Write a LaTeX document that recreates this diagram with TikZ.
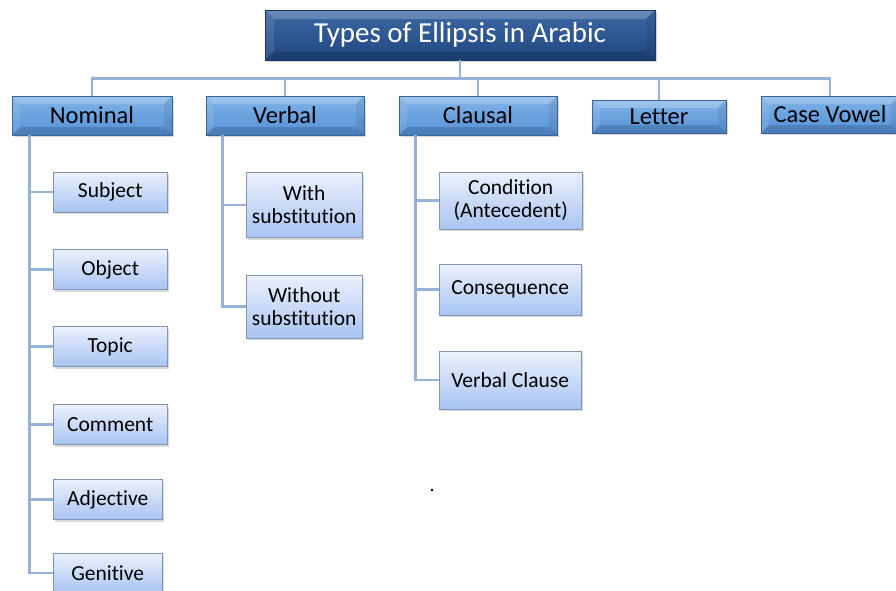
\documentclass[tikz,border=0pt]{standalone}
\usepackage{fontspec}
\setmainfont{Carlito}[Ligatures={NoCommon}]
\usetikzlibrary{shadows}
\definecolor{navy}{RGB}{31,70,128}
\definecolor{navytop}{RGB}{62,105,165}
\definecolor{midblue}{RGB}{84,145,214}
\definecolor{midtop}{RGB}{130,180,232}
\definecolor{paletop}{RGB}{236,241,253}
\definecolor{palebot}{RGB}{168,196,242}
\definecolor{linkblue}{RGB}{150,178,216}
\definecolor{boxedge}{RGB}{130,150,180}
\begin{document}
\begin{tikzpicture}[x=1pt,y=-1pt,
	bevel/.style={path picture={
		\path (path picture bounding box.north west) coordinate (bnw) (path picture bounding box.north east) coordinate (bne)
			(path picture bounding box.south west) coordinate (bsw) (path picture bounding box.south east) coordinate (bse);
		\fill[white,opacity=.22] (bnw) -- (bne) -- ([shift={(-#1,-#1)}]bne) -- ([shift={(#1,-#1)}]bnw) -- cycle;
		\fill[black,opacity=.14] (bsw) -- (bse) -- ([shift={(-#1,#1)}]bse) -- ([shift={(#1,#1)}]bsw) -- cycle;
		\fill[black,opacity=.07] (bne) -- (bse) -- ([shift={(-#1,#1)}]bse) -- ([shift={(-#1,-#1)}]bne) -- cycle;
		\fill[white,opacity=.1] (bnw) -- (bsw) -- ([shift={(#1,#1)}]bsw) -- ([shift={(#1,-#1)}]bnw) -- cycle;
	}},
	titlebox/.style={draw=navy!80!black,top color=navytop,bottom color=navy,text=white,minimum width=390pt,minimum height=50pt,bevel=9pt,font=\fontsize{29}{32}\selectfont,drop shadow={opacity=.35,shadow xshift=2pt,shadow yshift=-2pt}},
	kindbox/.style={draw=midblue!70!black,top color=midtop,bottom color=midblue,minimum height=39pt,inner sep=1pt,bevel=8pt,font=\fontsize{24.5}{28}\selectfont,drop shadow={opacity=.3,shadow xshift=2pt,shadow yshift=-2pt}},
	leafbox/.style={draw=boxedge,top color=paletop,bottom color=palebot,align=center,inner sep=1pt,font=\fontsize{21.5}{23}\selectfont,drop shadow={opacity=.3,shadow xshift=2pt,shadow yshift=-2pt}},
	link/.style={draw=linkblue,line width=2.8pt}]
	\useasboundingbox (0,0) rectangle (896,590);
	% main heading and the five kinds
	\node[titlebox] (title) at (460,35) {Types of Ellipsis in Arabic};
	\node[kindbox,minimum width=160pt] (nom) at (92,115.5) {Nominal};
	\node[kindbox,minimum width=158pt] (verb) at (285,115.5) {Verbal};
	\node[kindbox,minimum width=158pt] (claus) at (478,115.5) {Clausal};
	\node[kindbox,minimum width=134pt,minimum height=33pt] (let) at (659,116.5) {Letter};
	\node[kindbox,minimum width=138pt,minimum height=37pt] (case) at (830,114.5) {Case Vowel};
	% nominal
	\foreach \n/\t/\y/\w in {sub/Subject/192/114,obj/Object/269.5/114,top/Topic/346.5/114,com/Comment/424.5/114,adj/Adjective/499.5/109,gen/Genitive/573/109}{
		\node[leafbox,minimum width=\w pt,minimum height=40pt,anchor=west] (\n) at (53,\y) {\t};
	}
	% verbal
	\node[leafbox,minimum width=116pt,minimum height=65pt,anchor=west] (with) at (246,205) {With\\substitution};
	\node[leafbox,minimum width=116pt,minimum height=63pt,anchor=west] (wout) at (246,306.5) {Without\\substitution};
	% clausal
	\node[leafbox,minimum width=143pt,minimum height=57pt,anchor=west] (cond) at (439,200.5) {Condition\\(Antecedent)};
	\node[leafbox,minimum width=142pt,minimum height=51pt,anchor=west] (cons) at (439,289.5) {Consequence};
	\node[leafbox,minimum width=142pt,minimum height=58pt,anchor=west] (vcl) at (439,380) {Verbal Clause};
	% connectors
	\foreach \k in {nom,verb,claus,let,case}{
		\path[link] (title.south) -- ++(0,18) -| (\k.north);
	}
	\foreach \c in {sub,obj,top,com,adj,gen}{
		\path[link] (nom.south west) ++(18,0) |- (\c.west);
	}
	\foreach \c in {with,wout}{
		\path[link] (verb.south west) ++(17,0) |- (\c.west);
	}
	\foreach \c in {cond,cons,vcl}{
		\path[link] (claus.south west) ++(17,0) |- (\c.west);
	}
	\fill (432,490) circle (1.3pt);
\end{tikzpicture}
\end{document}
